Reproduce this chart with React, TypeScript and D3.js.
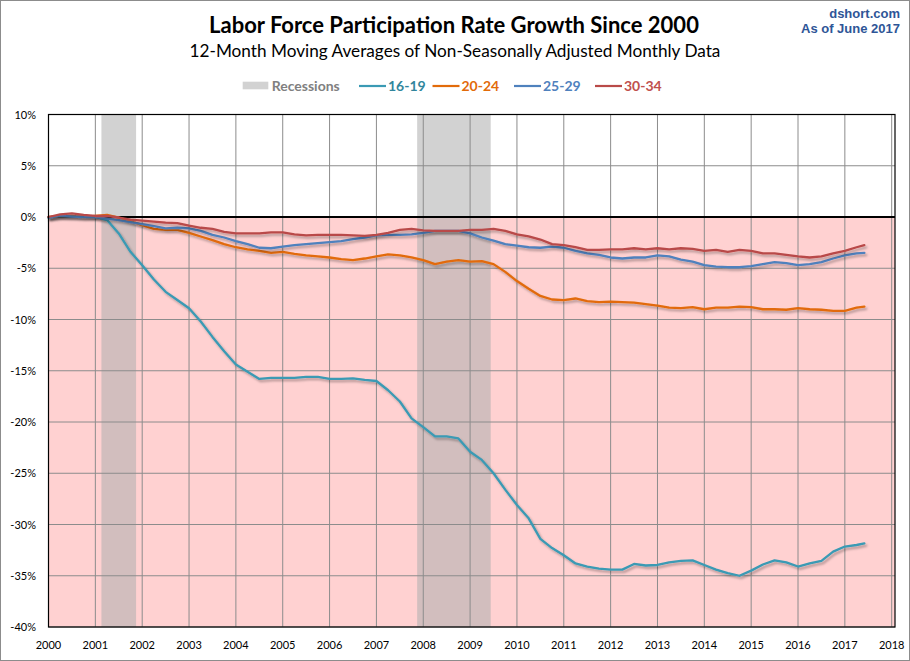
import React from 'react';
import * as d3 from 'd3';

// quarterly readings, last point is June 2017
const dates = [...d3.range(0, 70).map((i) => 2000 + i * 0.25), 2017 + 5 / 12];

const teens = [
  -0.05, 0.1, 0.1, 0.1,
  0, -0.3, -1.6, -3.4,
  -4.7, -6.1, -7.3, -8.1,
  -8.9, -10.2, -11.7, -13.1,
  -14.4, -15.1, -15.8, -15.7,
  -15.7, -15.7, -15.6, -15.6,
  -15.8, -15.8, -15.75, -15.9,
  -16.0, -16.9, -18.0, -19.65,
  -20.5, -21.4, -21.4, -21.6,
  -22.9, -23.7, -25.0, -26.6,
  -28.1, -29.4, -31.4, -32.3,
  -33.0, -33.8, -34.1, -34.3,
  -34.4, -34.4, -33.85, -34.0,
  -33.95, -33.7, -33.55, -33.5,
  -33.95, -34.4, -34.75, -35.0,
  -34.5, -33.9, -33.5, -33.7,
  -34.1, -33.8, -33.55, -32.65,
  -32.15, -32.0, -31.85,
];

const early20s = [
  0, 0.1, 0.1, 0,
  0.1, 0.2, -0.05, -0.4,
  -0.8, -1.15, -1.25, -1.25,
  -1.55, -1.9, -2.25, -2.65,
  -2.95, -3.15, -3.3, -3.5,
  -3.4, -3.6, -3.75, -3.85,
  -3.95, -4.1, -4.2, -4.05,
  -3.85, -3.65, -3.75, -3.95,
  -4.2, -4.6, -4.35, -4.2,
  -4.35, -4.3, -4.6, -5.35,
  -6.25, -7.0, -7.7, -8.05,
  -8.1, -7.95, -8.2, -8.3,
  -8.25, -8.3, -8.35, -8.5,
  -8.65, -8.85, -8.9, -8.8,
  -9.0, -8.85, -8.85, -8.75,
  -8.8, -9.0, -9.0, -9.05,
  -8.9, -9.0, -9.05, -9.15,
  -9.15, -8.85, -8.75,
];

const late20s = [
  -0.05, 0.1, 0.05, 0,
  0, -0.15, -0.3, -0.5,
  -0.7, -0.9, -1.1, -1.05,
  -1.1, -1.35, -1.75, -2.0,
  -2.35, -2.65, -3.0, -3.05,
  -2.9, -2.75, -2.65, -2.55,
  -2.45, -2.35, -2.15, -2.0,
  -1.8, -1.75, -1.75, -1.7,
  -1.55, -1.35, -1.35, -1.35,
  -1.6, -2.0, -2.3, -2.65,
  -2.8, -2.95, -3.0, -2.9,
  -3.0, -3.3, -3.55, -3.7,
  -3.95, -4.05, -3.95, -3.95,
  -3.75, -3.85, -4.15, -4.35,
  -4.7, -4.85, -4.9, -4.9,
  -4.8, -4.6, -4.4, -4.5,
  -4.7, -4.6, -4.4, -4.05,
  -3.75, -3.55, -3.5,
];

const early30s = [
  0, 0.25, 0.35, 0.2,
  0.1, 0.1, -0.05, -0.25,
  -0.35, -0.45, -0.55, -0.6,
  -0.85, -1.05, -1.15, -1.45,
  -1.6, -1.6, -1.6, -1.5,
  -1.5, -1.7, -1.8, -1.75,
  -1.75, -1.75, -1.8, -1.85,
  -1.75, -1.55, -1.25, -1.15,
  -1.3, -1.35, -1.35, -1.35,
  -1.25, -1.25, -1.15, -1.35,
  -1.7, -1.9, -2.2, -2.65,
  -2.75, -2.95, -3.2, -3.2,
  -3.15, -3.15, -3.05, -3.15,
  -3.05, -3.15, -3.05, -3.1,
  -3.3, -3.2, -3.4, -3.2,
  -3.3, -3.55, -3.55, -3.7,
  -3.85, -3.95, -3.85, -3.55,
  -3.3, -2.95, -2.75,
];

const seriesNames = ['16-19', '20-24', '25-29', '30-34'];
const seriesValues = [teens, early20s, late20s, early30s];
const lineColors = ['#3a9ab4', '#e26b0a', '#4f81bd', '#b94a48'];
const textColors = ['#31859c', '#e26b0a', '#4f81bd', '#c0504d'];

const recessionStart = [2001.13, 2007.87];
const recessionEnd = [2001.87, 2009.44];

const yearTicks = d3.range(2000, 2019);
const pctTicks = [10, 5, 0, -5, -10, -15, -20, -25, -30, -35, -40];

const font = 'Lato, "Open Sans", sans-serif';

const App: React.FC = () => {
  const width = 910;
  const height = 661;
  const left = 48.5;
  const right = 891.7;
  const top = 114.5;
  const bottom = 627;
  const frameRight = 895;

  const x = d3.scaleLinear().domain([2000, 2018]).range([left, right]);
  const y = d3.scaleLinear().domain([-40, 10]).range([bottom, top]);

  const line = d3
    .line<number>()
    .x((_, i) => x(dates[i]))
    .y((d) => y(d));

  const legendX = [388, 461.5, 543, 624];

  return (
    <svg
      width={width}
      height={height}
      style={{ position: 'absolute', left: 0, top: 0, display: 'block' }}
      fontFamily={font}
    >
      <defs>
        <filter id="shadow" x="-5%" y="-20%" width="110%" height="140%">
          <feDropShadow dx="1.8" dy="2.2" stdDeviation="1.2" floodColor="#000" floodOpacity="0.3" />
        </filter>
      </defs>
      <rect x={0.5} y={0.5} width={width - 1} height={height - 1} fill="#fff" stroke="#8c8c8c" />

      {/* titles */}
      <text x={454} y={33} textAnchor="middle" fontSize={22} fontWeight="bold" fill="#000">
        Labor Force Participation Rate Growth Since 2000
      </text>
      <text x={455} y={56.5} textAnchor="middle" fontSize={17.2} fill="#000">
        12-Month Moving Averages of Non-Seasonally Adjusted Monthly Data
      </text>
      <text x={900} y={17.5} textAnchor="end" fontSize={13} fontWeight="bold" fill="#2e5597" fontFamily="Liberation Sans, Arial, sans-serif">
        dshort.com
      </text>
      <text x={900} y={33} textAnchor="end" fontSize={13} fontWeight="bold" fill="#2e5597" fontFamily="Liberation Sans, Arial, sans-serif">
        As of June 2017
      </text>

      {/* legend */}
      <rect x={242.7} y={81.7} width={25.6} height={7.6} fill="#d2d2d2" />
      <text x={271.7} y={90.5} fontSize={14} fontWeight="bold" fill="#808080">
        Recessions
      </text>
      {seriesNames.map((name, i) => (
        <g key={name}>
          <line x1={legendX[i] - 29} x2={legendX[i] - 2} y1={86} y2={86} stroke={lineColors[i]} strokeWidth={2.2} />
          <text x={legendX[i]} y={90.5} fontSize={14} fontWeight="bold" fill={textColors[i]}>
            {name}
          </text>
        </g>
      ))}

      {/* plot background */}
      <rect x={left} y={top} width={frameRight - left} height={y(0) - top} fill="#fff" />
      <rect x={left} y={y(0)} width={frameRight - left} height={bottom - y(0)} fill="#ffd1d1" />
      {recessionStart.map((s, i) => (
        <g key={s}>
          <rect x={x(s)} y={top} width={x(recessionEnd[i]) - x(s)} height={y(0) - top} fill="#d2d2d2" />
          <rect x={x(s)} y={y(0)} width={x(recessionEnd[i]) - x(s)} height={bottom - y(0)} fill="#d2bebe" />
        </g>
      ))}

      {/* grid */}
      {yearTicks.map((t) => (
        <line key={t} x1={x(t)} x2={x(t)} y1={top} y2={bottom} stroke="#8c8c8c" strokeWidth={1} />
      ))}
      {pctTicks.map((t) => (
        <line key={t} x1={left} x2={frameRight} y1={y(t)} y2={y(t)} stroke="#8c8c8c" strokeWidth={1} />
      ))}
      <line x1={left} x2={frameRight} y1={y(0)} y2={y(0)} stroke="#000" strokeWidth={2} />

      {/* series */}
      {seriesValues.map((vals, i) => (
        <path
          key={seriesNames[i]}
          d={line(vals) ?? ''}
          fill="none"
          stroke={lineColors[i]}
          strokeWidth={2.3}
          strokeLinejoin="round"
          strokeLinecap="round"
          filter="url(#shadow)"
        />
      ))}

      <rect x={left} y={top} width={frameRight - left} height={bottom - top} fill="none" stroke="#000" strokeWidth={1.2} />

      {/* axis labels */}
      {pctTicks.map((t) => (
        <text key={t} x={36} y={y(t) + 4} textAnchor="end" fontSize={11} fill="#000">
          {`${t}%`}
        </text>
      ))}
      {yearTicks.map((t) => (
        <text key={t} x={x(t)} y={649} textAnchor="middle" fontSize={11} fill="#000">
          {t}
        </text>
      ))}
    </svg>
  );
};

export default App;
